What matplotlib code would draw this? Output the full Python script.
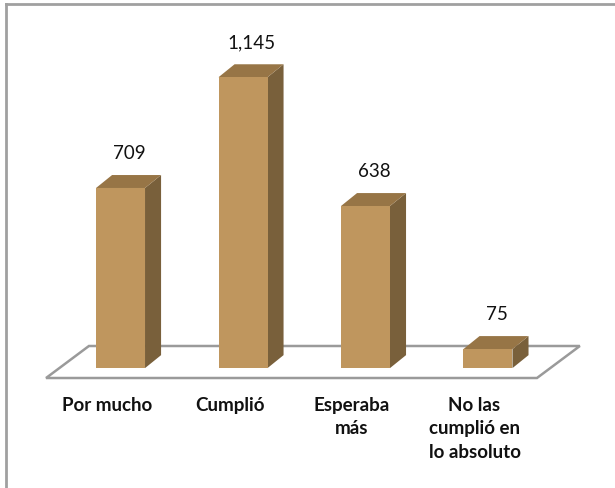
import matplotlib
matplotlib.use("Agg")
import matplotlib.pyplot as plt
from matplotlib.patches import Polygon
from matplotlib.lines import Line2D

plt.rcParams['font.family'] = ['Lato', 'DejaVu Sans']

# data
categories = ["Por mucho", "Cumplió", "Esperaba\nmás", "No las\ncumplió en\nlo absoluto"]
values = [709, 1145, 638, 75]
value_labels = ["709", "1,145", "638", "75"]

# colours
front_col = "#BF965E"
top_col = "#977546"
side_col = "#79603B"
floor_col = "#9A9A9A"

W, H, DPI = 615, 488, 100
fig = plt.figure(figsize=(W / DPI, H / DPI), dpi=DPI)
ax = fig.add_axes([0, 0, 1, 1])
ax.set_xlim(-0.984, 4.037)
ax.set_ylim(-472, 1449)
ax.axis("off")

bar_w = 0.4       # category units
dx, dy = 0.131, 51  # 3d depth offset of the bars

# floor (parallelogram)
fx0, fx1 = -0.608, 3.40
fdx = 0.35
fy_front, fy_back = -39, 87
floor = Polygon([(fx0, fy_front), (fx1, fy_front),
                 (fx1 + fdx, fy_back), (fx0 + fdx, fy_back)],
                closed=True, facecolor="white", edgecolor=floor_col, lw=1.8)
ax.add_patch(floor)

for i, v in enumerate(values):
    x0, x1 = i - bar_w / 2, i + bar_w / 2
    front = Polygon([(x0, 0), (x1, 0), (x1, v), (x0, v)], closed=True,
                    facecolor=front_col, edgecolor="none")
    top = Polygon([(x0, v), (x1, v), (x1 + dx, v + dy), (x0 + dx, v + dy)],
                  closed=True, facecolor=top_col, edgecolor="none")
    side = Polygon([(x1, 0), (x1 + dx, dy), (x1 + dx, v + dy), (x1, v)],
                   closed=True, facecolor=side_col, edgecolor="none")
    for p in (side, top, front):
        ax.add_patch(p)
    ax.text(i + 0.07, v + 135, value_labels[i], ha="center", va="center",
            fontsize=13.5, color="#111111")
    ax.text(i - 0.11, -114, categories[i], ha="center", va="top",
            fontsize=13.5, fontweight="bold", color="#111111", linespacing=1.45)

# chart frame (top and left edges visible)
fig.add_artist(Line2D([6 / W, 1], [1 - 4 / H, 1 - 4 / H], color="#A0A0A0", lw=2))
fig.add_artist(Line2D([6 / W, 6 / W], [0, 1 - 4 / H], color="#A0A0A0", lw=2))

fig.savefig("out.png", dpi=DPI, facecolor="white")
